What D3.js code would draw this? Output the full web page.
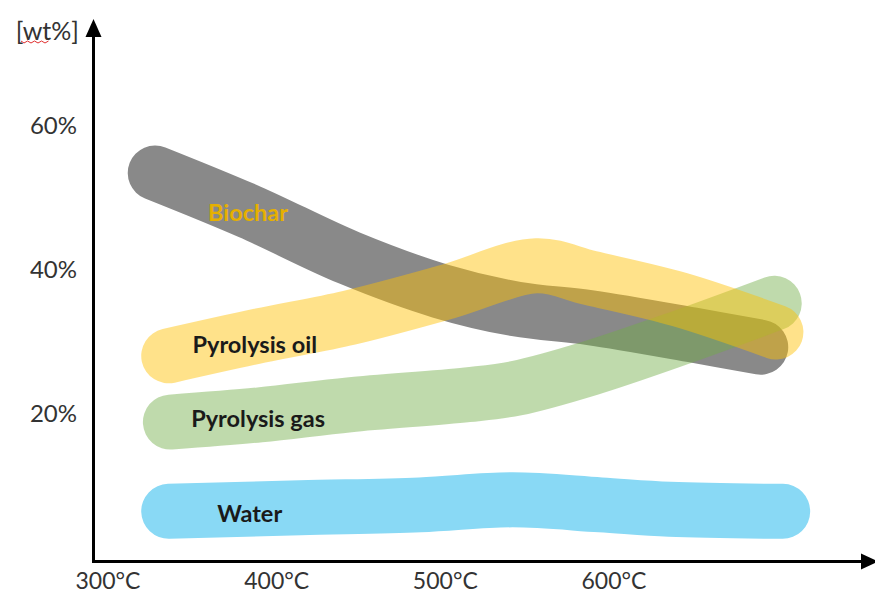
<!DOCTYPE html>
<html><head><meta charset="utf-8">
<script src="https://cdn.jsdelivr.net/npm/d3@7"></script>
<style>html,body{margin:0;padding:0;background:#fff;}svg{display:block;}</style>
</head><body><svg id="c" width="875" height="595"></svg>
<script>
// ---- data ----
const xTicks = [300, 400, 500, 600];
const xTickLabels = ["300°C", "400°C", "500°C", "600°C"];
const yTicks = [20, 40, 60];
const yTickLabels = ["20%", "40%", "60%"];
const yUnit = "[wt%]";

const seriesNames = ["Water", "Biochar", "Pyrolysis gas", "Pyrolysis oil"];

const waterTemp = [336, 414, 485, 540, 592, 633, 700];
const waterWt   = [6.2, 6.7, 7.1, 7.8, 7.1, 6.5, 6.2];

const biocharTemp = [328, 384, 443, 497, 542, 586, 649, 687];
const biocharWt   = [53.2, 47.8, 41.4, 36.8, 34.3, 33.1, 30.6, 29.0];

const gasTemp = [337, 390, 443, 513, 542, 586, 639, 695];
const gasWt   = [18.6, 19.6, 21.0, 22.4, 23.3, 26.1, 30.3, 35.1];

const oilTemp = [336, 390, 443, 501, 554, 586, 639, 696];
const oilWt   = [27.8, 30.6, 33.1, 36.7, 40.3, 38.6, 35.6, 31.1];

// label anchor positions (data coords)
const labelTemp = [384, 383, 389, 387];
const labelWt   = [6.0, 47.8, 19.2, 29.5];

// ---- drawing ----
const svg = d3.select("#c");
const x = d3.scaleLinear().domain([300, 600]).range([108, 614]);
const y = d3.scaleLinear().domain([0, 60]).range([556, 124]);

const series = [
  {name: seriesNames[0], t: waterTemp, v: waterWt, color: "#89D9F5", op: 1},
  {name: seriesNames[1], t: biocharTemp, v: biocharWt, color: "#898989", op: 1},
  {name: seriesNames[2], t: gasTemp, v: gasWt, color: "#70AD47", op: 0.45},
  {name: seriesNames[3], t: oilTemp, v: oilWt, color: "#FFC000", op: 0.46}
];

const line = d3.line().x(d => x(d[0])).y(d => y(d[1])).curve(d3.curveCatmullRom.alpha(0.5));

svg.append("g").selectAll("path").data(series).join("path")
  .attr("d", s => line(s.t.map((t, i) => [t, s.v[i]])))
  .attr("fill", "none")
  .attr("stroke", s => s.color)
  .attr("stroke-opacity", s => s.op)
  .attr("stroke-width", 55)
  .attr("stroke-linecap", "round")
  .attr("stroke-linejoin", "round");

// series labels
const labelColors = ["#1a1a1a", "#E6B000", "#1a1a1a", "#1a1a1a"];
svg.append("g").selectAll("text").data(series).join("text")
  .attr("x", (s, i) => x(labelTemp[i]))
  .attr("y", (s, i) => y(labelWt[i]))
  .attr("text-anchor", "middle")
  .attr("dominant-baseline", "central")
  .attr("font-family", "Lato, 'Open Sans', sans-serif")
  .attr("font-weight", "bold")
  .attr("font-size", 23.5)
  .attr("fill", (s, i) => labelColors[i])
  .text(s => s.name);

// axes
const axisX0 = 93.5, axisY0 = 561.5;
svg.append("line").attr("x1", axisX0).attr("y1", axisY0 + 1.5).attr("x2", axisX0).attr("y2", 34)
  .attr("stroke", "#000").attr("stroke-width", 3);
svg.append("path").attr("d", `M${axisX0},19 L${axisX0 - 8},37 L${axisX0 + 8},37 Z`).attr("fill", "#000");
svg.append("line").attr("x1", axisX0 - 1.5).attr("y1", axisY0).attr("x2", 864).attr("y2", axisY0)
  .attr("stroke", "#000").attr("stroke-width", 3);
svg.append("path").attr("d", `M878,${axisY0} L861,${axisY0 - 8} L861,${axisY0 + 8} Z`).attr("fill", "#000");

// tick labels
const tickFont = "Lato, 'Open Sans', sans-serif";
svg.append("g").selectAll("text").data(xTicks).join("text")
  .attr("x", d => x(d)).attr("y", 580)
  .attr("text-anchor", "middle").attr("dominant-baseline", "central")
  .attr("font-family", tickFont).attr("font-size", 23).attr("fill", "#333")
  .text((d, i) => xTickLabels[i]);
svg.append("g").selectAll("text").data(yTicks).join("text")
  .attr("x", 77).attr("y", d => y(d))
  .attr("text-anchor", "end").attr("dominant-baseline", "central")
  .attr("font-family", tickFont).attr("font-size", 24).attr("fill", "#333")
  .text((d, i) => yTickLabels[i]);

// unit label
svg.append("text").attr("x", 79).attr("y", 30)
  .attr("text-anchor", "end").attr("dominant-baseline", "central")
  .attr("font-family", tickFont).attr("font-size", 25).attr("fill", "#333")
  .text(yUnit);
// spell-check squiggle under "wt"
let sq = "M21,41";
for (let i = 0; i < 8; i++) sq += ` L${24 + i * 3.5},${i % 2 ? 41 : 43}`;
svg.append("path").attr("d", sq).attr("fill", "none").attr("stroke", "#e03030").attr("stroke-width", 1);
</script>
</body></html>
